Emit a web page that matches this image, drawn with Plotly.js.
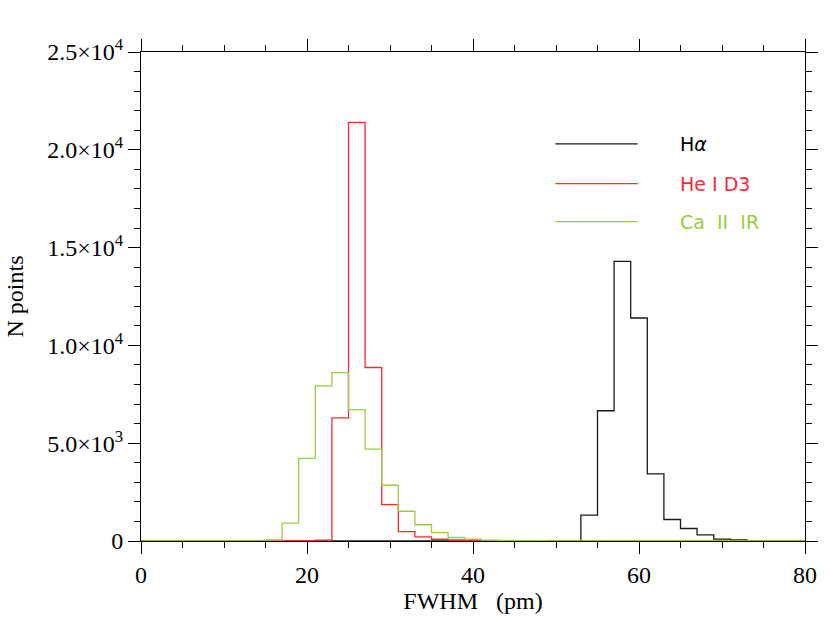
<!DOCTYPE html>
<html>
<head>
<meta charset="utf-8">
<script src="https://cdn.plot.ly/plotly-3.0.1.min.js"></script>
<style>html,body{margin:0;padding:0;background:#fff;}#chart{width:830px;height:623px;}</style>
</head>
<body>
<div id="chart"></div>
<script>
// Bin centres (FWHM, pm), bins of width 2
const fwhm = [0,2,4,6,8,10,12,14,16,18,20,22,24,26,28,30,32,34,36,38,40,42,44,46,48,50,52,54,56,58,60,62,64,66,68,70,72,74,76,78,80];
// H-alpha counts
const halpha = [0,0,0,0,0,0,0,0,0,0,0,0,0,0,0,0,0,0,0,0,0,0,0,0,0,0,10,1320,6660,14300,11400,3430,1100,640,310,100,50,20,10,0,0];
// He I D3 counts
const heD3 = [0,0,0,0,0,0,0,0,30,20,20,40,6290,21400,8870,1860,480,210,90,50,40,20,15,10,5,0,0,0,0,0,0,0,0,0,0,0,0,0,0,0,0];
// Ca II IR counts
const caIR = [0,0,0,0,0,0,0,0,50,910,4220,7930,8610,6720,4700,2850,1520,830,430,180,90,40,30,20,15,10,8,6,5,5,5,4,3,2,2,1,1,1,0,0,0];

const seriesNames = ['H<i>α</i>', 'He I D3', 'Ca  II  IR'];
const seriesColors = ['#1a1a1a', '#ff2a2a', '#9acd3c'];
const textColors = ['#000', '#f5283c', '#9acd3c'];
const yTickVals = [0, 5000, 10000, 15000, 20000, 25000];
const yTickText = ['0', '5.0×10<sup>3</sup>', '1.0×10<sup>4</sup>', '1.5×10<sup>4</sup>', '2.0×10<sup>4</sup>', '2.5×10<sup>4</sup>'];
const xTickVals = [0, 20, 40, 60, 80];

const ys = [halpha, heD3, caIR];
const traces = ys.map((y, i) => ({
  x: fwhm, y: y, type: 'scatter', mode: 'lines',
  line: {shape: 'hvh', color: seriesColors[i], width: 1.3},
  name: seriesNames[i], showlegend: false, hoverinfo: 'skip'
}));

const serif = 'Liberation Serif, Times New Roman, serif';
const axisCommon = {
  showgrid: false, zeroline: false, showline: true, linecolor: '#000', linewidth: 1,
  mirror: 'ticks', ticks: 'outside', tickcolor: '#000', tickwidth: 1, ticklen: 12,
  tickfont: {family: serif, size: 24, color: '#000'}
};

const shapes = [];
const annotations = [];
const legY = [0.812, 0.731, 0.653];
for (let i = 0; i < 3; i++) {
  shapes.push({type: 'line', xref: 'paper', yref: 'paper', x0: 0.624, x1: 0.748, y0: legY[i], y1: legY[i],
    line: {color: seriesColors[i], width: 1.3}});
  annotations.push({xref: 'paper', yref: 'paper', x: 0.808, y: legY[i], xanchor: 'left', yanchor: 'middle',
    text: seriesNames[i], showarrow: false,
    font: {family: 'DejaVu Sans, sans-serif', size: 19, color: textColors[i]}});
}

const layout = {
  width: 830, height: 623,
  margin: {l: 141, r: 25, t: 51.5, b: 81.5},
  paper_bgcolor: '#fff', plot_bgcolor: '#fff',
  showlegend: false,
  xaxis: Object.assign({}, axisCommon, {
    range: [0, 80], tickvals: xTickVals, ticktext: xTickVals.map(String),
    minor: {dtick: 5, tick0: 0, ticks: 'outside', ticklen: 6, tickcolor: '#000', tickwidth: 1},
    title: {text: 'FWHM   (pm)', font: {family: serif, size: 24, color: '#000'}, standoff: 4}
  }),
  yaxis: Object.assign({}, axisCommon, {
    range: [0, 25000], tickvals: yTickVals, ticktext: yTickText,
    minor: {dtick: 1000, tick0: 0, ticks: 'outside', ticklen: 6, tickcolor: '#000', tickwidth: 1},
    title: {text: 'N points', font: {family: serif, size: 24, color: '#000'}, standoff: 16}
  }),
  shapes: shapes,
  annotations: annotations
};

Plotly.newPlot('chart', traces, layout, {staticPlot: true, displayModeBar: false});
</script>
</body>
</html>
